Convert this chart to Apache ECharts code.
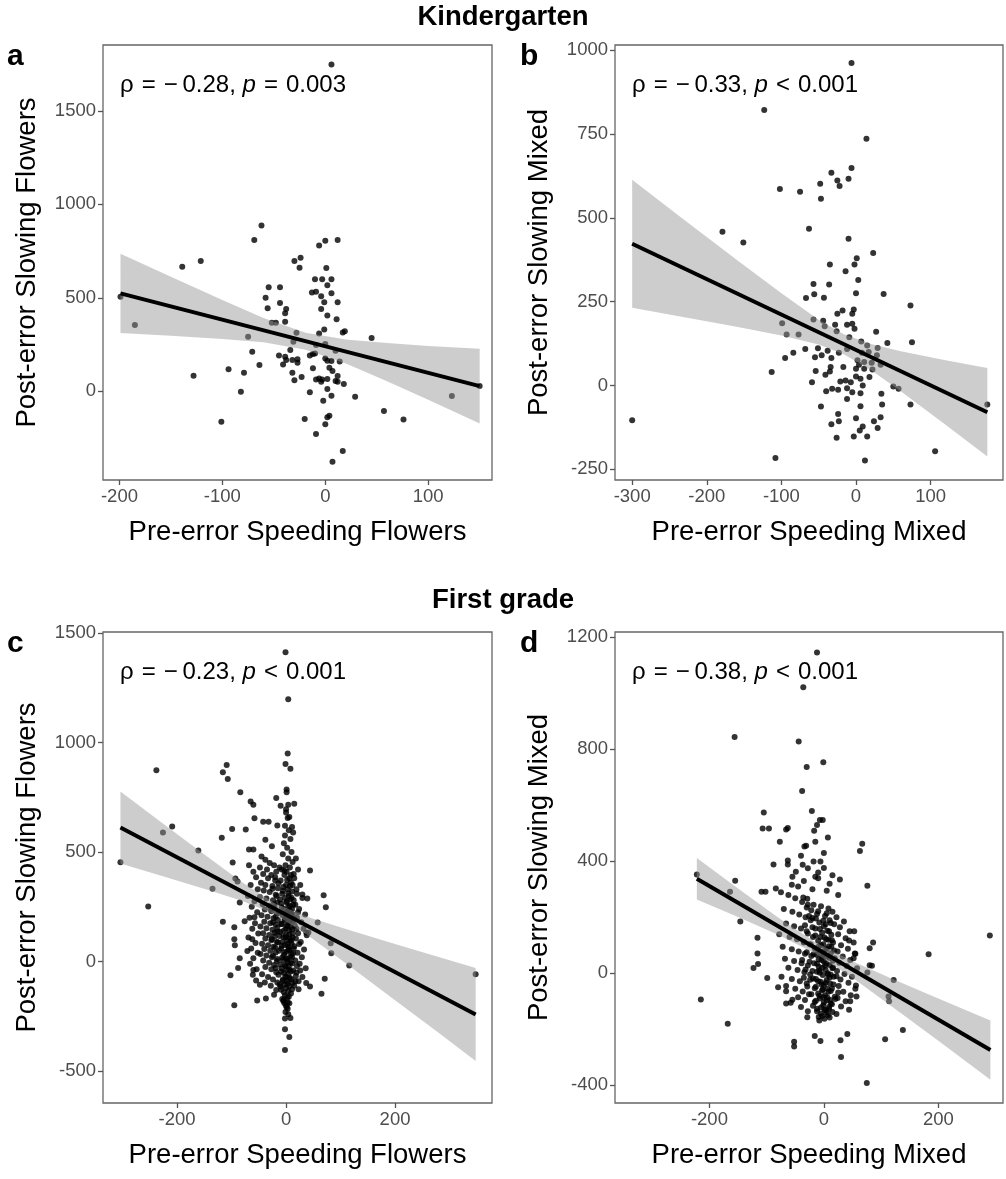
<!DOCTYPE html>
<html>
<head>
<meta charset="utf-8">
<script src="https://cdn.jsdelivr.net/npm/echarts@6/dist/echarts.min.js"></script>
<style>html,body{margin:0;padding:0;background:#fff}#c{width:1006px;height:1179px}</style>
</head>
<body>
<div id="c"></div>
<script>
// ---------- DATA ----------
const titles = ["Kindergarten", "First grade"];
const panelLetters = ["a", "b", "c", "d"];
const xTitles = ["Pre-error Speeding Flowers", "Pre-error Speeding Mixed", "Pre-error Speeding Flowers", "Pre-error Speeding Mixed"];
const yTitles = ["Post-error Slowing Flowers", "Post-error Slowing Mixed", "Post-error Slowing Flowers", "Post-error Slowing Mixed"];
const rhoText = ["−\u20090.28", "−\u20090.33", "−\u20090.23", "−\u20090.38"];
const pText = ["=\u20040.003", "<\u20040.001", "<\u20040.001", "<\u20040.001"];

const xTicksA = [-200, -100, 0, 100];
const yTicksA = [0, 500, 1000, 1500];
const xTicksB = [-300, -200, -100, 0, 100];
const yTicksB = [-250, 0, 250, 500, 750, 1000];
const xTicksC = [-200, 0, 200];
const yTicksC = [-500, 0, 500, 1000, 1500];
const xTicksD = [-200, 0, 200];
const yTicksD = [-400, 0, 400, 800, 1200];

const xRangeA = [-216, 162], yRangeA = [-474, 1852];
const xRangeB = [-323, 197], yRangeB = [-282, 1016];
const xRangeC = [-336, 378], yRangeC = [-645, 1504];
const xRangeD = [-365, 313], yRangeD = [-463, 1219];

const pointsA = [[6,1748],[-69,809],[-62,887],[-121,697],[-139,666],[-199,506],[-185,355],[-75,292],[-71,212],[-64,141],[-94,118],[-79,100],[-128,84],[-82,-2],[-101,-162],[-55,556],[-44,556],[-58,501],[-56,444],[-44,472],[-52,367],[-48,367],[-38,440],[-39,417],[-39,372],[-30,697],[-24,714],[-25,661],[-28,314],[-31,265],[-34,221],[-45,192],[-39,185],[-38,167],[-41,144],[-32,167],[-27,171],[-27,153],[-32,100],[-30,59],[-23,77],[-15,-5],[-20,-148],[-9,-228],[-6,780],[0,805],[12,809],[1,659],[-10,599],[-3,599],[6,599],[2,568],[-13,529],[-9,533],[-4,508],[-1,477],[6,524],[12,477],[-4,440],[2,406],[11,385],[-6,310],[-1,331],[17,315],[19,322],[-9,248],[0,253],[10,217],[-15,192],[-12,200],[-10,203],[0,176],[2,164],[6,162],[14,159],[-12,123],[4,126],[7,109],[12,82],[-9,64],[-6,69],[-3,64],[2,66],[10,55],[12,52],[18,39],[-4,52],[2,12],[6,-23],[-2,-50],[4,-130],[2,-139],[0,-176],[17,-319],[7,-376],[29,-29],[45,285],[57,-105],[76,-150],[123,-25],[150,29]];

const pointsB = [[-6,962],[-123,822],[14,736],[-179,459],[-151,427],[-300,-104],[-108,-216],[106,-196],[12,-224],[176,-57],[73,239],[75,129],[73,-57],[50,-3],[57,-10],[37,273],[42,127],[23,395],[27,160],[-102,586],[-75,578],[-48,602],[-47,557],[-33,635],[-25,612],[-22,595],[-10,617],[-6,649],[-63,468],[-10,438],[1,380],[-35,361],[-2,361],[-14,341],[3,315],[-57,303],[-36,301],[-56,272],[-67,261],[-43,262],[0,275],[-25,214],[-18,224],[-5,214],[-3,227],[-99,186],[-93,152],[-77,152],[-57,197],[-44,193],[-42,177],[-26,162],[-28,181],[-12,181],[-5,184],[-2,169],[-84,98],[-95,82],[-68,109],[-51,111],[-55,84],[-46,90],[-38,104],[-33,82],[-23,98],[-12,109],[7,131],[15,119],[17,100],[29,112],[28,90],[8,98],[2,75],[11,70],[21,68],[33,62],[22,48],[4,62],[0,50],[-17,55],[-34,55],[-54,43],[-41,32],[-35,42],[-113,40],[-59,10],[-21,12],[-14,15],[-7,10],[0,27],[6,20],[18,25],[9,0],[-12,-8],[-24,-13],[-40,-17],[-32,-10],[-5,-20],[6,-23],[-12,-40],[6,-62],[-47,-63],[34,-25],[35,-57],[-24,-85],[-23,-107],[-33,-116],[0,-98],[9,-122],[5,-134],[33,-95],[24,-107],[29,-127],[-26,-156],[-3,-152],[15,-152],[-9,144],[11,50]];

const pointsC = [[-1,1412],[4,1197],[3,950],[-1,902],[8,880],[-238,873],[-109,897],[-116,864],[-107,833],[-84,773],[1,785],[1,773],[-209,616],[-226,589],[-304,454],[-253,251],[-161,507],[-118,565],[-99,605],[-74,603],[-65,731],[-60,716],[-58,654],[-42,638],[-32,638],[-18,747],[-10,711],[0,695],[4,716],[15,720],[6,660],[11,614],[13,589],[-2,576],[-16,621],[-38,556],[-26,527],[-68,512],[-60,512],[-98,452],[-93,379],[-89,366],[-135,332],[-116,182],[-95,157],[-95,102],[-94,75],[-85,16],[-71,49],[-76,184],[-85,270],[-58,202],[-62,102],[-60,-38],[-88,-29],[-102,-62],[-95,-199],[-55,-86],[-48,-106],[-53,-177],[-37,-168],[-22,-151],[44,416],[30,306],[39,288],[69,303],[73,248],[58,179],[82,84],[83,38],[116,-18],[348,-58],[71,-78],[65,-146],[44,-113],[37,-97],[26,-40],[37,133],[41,133],[-2,-403],[6,-344],[-2,-308],[8,-257],[1,-208],[3,-186],[-4,-175],[11,-126],[23,-126],[17,-89],[-12,-104],[-18,-129],
[0,680],[3,655],[-2,620],[5,600],[8,560],[-4,540],[2,520],[10,500],[-6,490],[4,470],[12,455],[-1,440],[7,430],[-8,420],[1,410],[14,400],[-3,395],[6,380],[-10,370],[9,360],[0,350],[-5,340],[3,330],[11,320],[-7,310],[5,300],[-2,290],[8,285],[1,275],[-9,265],[13,260],[4,250],[-4,240],[7,232],[0,225],[10,218],[-6,210],[2,200],[15,195],[-3,188],[6,180],[-8,172],[3,165],[9,158],[-1,150],[5,142],[-11,135],[12,128],[0,120],[-5,112],[7,105],[2,98],[-7,90],[10,84],[-2,76],[4,68],[-9,60],[6,52],[1,45],[13,38],[-4,30],[8,22],[0,15],[-6,8],[3,0],[11,-8],[-2,-15],[5,-22],[-8,-30],[1,-38],[9,-45],[-4,-52],[4,-60],[-1,-68],[7,-75],[-6,-82],[2,-90],[12,-98],[-3,-105],[6,-112],[0,-120],[-9,-128],[4,-135],[9,-145],[-2,-155],[2,-165],[-5,-180],[6,-190],[0,-200],[3,-215],[-1,-230],
[-45,480],[-38,465],[-30,450],[-22,440],[-48,430],[-35,420],[-18,410],[-42,400],[-27,395],[-33,380],[-20,370],[-46,360],[-38,350],[-25,345],[-15,335],[-41,325],[-30,318],[-19,305],[-48,295],[-36,288],[-24,280],[-16,270],[-43,262],[-31,255],[-21,246],[-39,238],[-27,230],[-17,222],[-45,212],[-34,205],[-23,198],[-15,190],[-40,182],[-29,175],[-19,168],[-47,160],[-36,152],[-25,145],[-16,138],[-42,130],[-31,122],[-21,115],[-38,105],[-27,98],[-17,90],[-44,82],[-33,75],[-23,68],[-40,58],[-29,50],[-19,42],[-47,35],[-36,28],[-26,20],[-16,12],[-42,5],[-31,-5],[-22,-15],[-38,-25],[-27,-35],[-18,-48],[-44,-58],[-33,-70],[-24,-82],[-39,-95],[-28,-110],
[-68,440],[-60,410],[-55,385],[-65,350],[-52,330],[-70,300],[-58,275],[-63,250],[-53,225],[-67,200],[-57,175],[-62,150],[-51,128],[-69,110],[-56,85],[-64,60],[-52,40],[-60,15],[-66,-10],[-54,-35],[-61,-60],
[18,470],[22,420],[15,380],[26,350],[19,330],[30,290],[17,260],[24,240],[35,215],[20,200],[28,180],[16,165],[32,150],[22,130],[38,120],[18,105],[27,90],[15,70],[33,55],[21,40],[29,20],[17,5],[25,-10],[36,-30],[19,-50],[30,-70],[23,-90],[15,-110],
[-12,430],[-3,415],[9,395],[-20,385],[2,372],[-14,358],[7,345],[-25,333],[-6,322],[4,312],[-17,300],[10,292],[-11,283],[1,270],[-22,262],[7,255],[-8,248],[-28,238],[3,230],[-13,222],[12,215],[-19,205],[-2,196],[8,188],[-24,180],[-9,172],[1,163],[-16,155],[11,147],[-5,140],[-21,132],[6,124],[-12,117],[-1,110],[-26,102],[9,95],[-15,88],[3,80],[-8,73],[-20,65],[5,58],[-13,50],[-3,43],[10,35],[-24,27],[-7,19],[2,11],[-17,3],[8,-5],[-11,-13],[-1,-21],[-19,-29],[6,-37],[-9,-45],[-14,-60],[1,-72],[-6,-88],[10,-80],[-16,-95],[3,-100],[-10,-115],[-4,-140],[5,-160],[-7,-170],[-3,-190],[4,-240],[-2,-260],
[12,350],[20,310],[14,280],[11,240],[22,225],[13,185],[19,150],[12,110],[24,80],[14,60],[11,20],[20,-20],[13,-40],[18,-65]];

const pointsD = [[-12,1146],[-36,1022],[-156,844],[-44,828],[-1,754],[-30,737],[-38,651],[-21,580],[-105,574],[-107,517],[-96,517],[-66,514],[-63,519],[-17,509],[-12,530],[-7,548],[-2,548],[7,485],[-77,470],[67,463],[63,437],[-31,456],[-34,453],[-63,403],[-63,389],[-88,389],[-37,388],[-18,399],[-6,399],[0,376],[-49,363],[-15,345],[-10,340],[28,335],[76,313],[-222,353],[-155,331],[-164,291],[-109,291],[-102,291],[-84,303],[-56,316],[-36,271],[-29,266],[290,135],[183,68],[122,-24],[113,-83],[114,-100],[138,-202],[107,-235],[75,-392],[30,-299],[29,-239],[41,-217],[-6,-242],[-16,-224],[-52,-244],[-52,-261],[-215,-93],[-168,-180],[-146,185],[-116,127],[-116,71],[-115,33],[-123,19],[-99,-17],[-80,-50],[-66,-64],[-66,-108],[-55,-94],[-29,-157],[80,29],[84,27],[80,90],[86,110],[76,3],[53,150],[44,117],[54,71],[52,54],[57,-83],[46,-100],[56,-43],
[-18,245],[-5,240],[8,232],[15,220],[-12,212],[2,205],[-20,198],[10,190],[-8,182],[18,175],[0,168],[-15,160],[6,152],[-3,145],[13,138],[-19,130],[4,122],[-10,116],[16,110],[-1,104],[9,97],[-16,90],[2,84],[-7,78],[12,72],[-13,66],[6,60],[19,54],[-4,48],[0,42],[-17,36],[10,30],[-9,24],[15,18],[3,12],[-12,6],[7,0],[-2,-6],[17,-12],[-19,-18],[5,-24],[-6,-30],[11,-36],[0,-42],[-14,-48],[14,-54],[-3,-60],[8,-66],[-10,-72],[2,-78],[19,-84],[-7,-90],[5,-96],[-16,-102],[12,-108],[-1,-114],[9,-120],[-12,-126],[3,-132],[15,-138],[-5,-144],[7,-150],[-9,-156],[1,-162],[-2,60],[4,35],[-8,10],[10,-15],[-4,-40],[6,-55],[-11,85],[13,95],[-6,130],[3,175],[11,-95],[-14,-20],[16,45],[-1,-85],[8,120],[-3,20],[1,-130],[-9,50],[12,-5],[-5,100],
[-75,290],[-62,280],[-50,268],[-38,255],[-28,245],[-70,230],[-55,220],[-43,210],[-32,200],[-23,190],[-66,178],[-52,168],[-40,160],[-30,150],[-78,140],[-60,130],[-47,122],[-35,112],[-25,104],[-72,95],[-56,86],[-44,78],[-33,70],[-22,62],[-68,52],[-52,44],[-39,36],[-28,28],[-62,20],[-46,12],[-34,4],[-24,-4],[-74,-12],[-56,-20],[-42,-28],[-30,-36],[-66,-45],[-50,-55],[-37,-65],[-26,-75],[-45,-85],[-33,-95],[-58,-105],[-40,-120],[-28,-135],
[22,200],[35,185],[28,165],[45,150],[25,140],[38,125],[52,110],[30,100],[42,88],[24,78],[55,70],[33,60],[46,48],[27,38],[40,26],[58,18],[23,8],[36,-2],[49,-12],[29,-22],[43,-34],[26,-45],[55,-55],[34,-66],[47,-78],[24,-88],[38,-100],[30,-118],[44,-130],[22,-145],
[-45,310],[-20,300],[5,295],[-35,330],[10,320],[-55,345],[25,280],[-10,360],[-28,375],[15,350],[-40,420],[0,430],[-15,470],
[-30,235],[-22,225],[-10,222],[5,215],[-26,205],[-14,196],[-1,188],[12,180],[-33,172],[-20,165],[-7,158],[9,150],[-28,142],[-15,135],[1,128],[14,118],[-35,110],[-23,103],[-9,96],[5,88],[18,82],[-30,75],[-18,68],[-4,62],[10,55],[-38,48],[-25,41],[-12,34],[2,27],[16,21],[-32,14],[-20,8],[-7,2],[7,-4],[22,-10],[-35,-16],[-24,-23],[-10,-28],[3,-34],[17,-40],[-29,-47],[-16,-53],[-2,-58],[12,-63],[25,-68],[-22,-75],[-8,-80],[6,-86],[20,-92],[-14,-98],[0,-104],[14,-110],[-19,-116],[-5,-122],[9,-127],[-12,-135],[5,-141],[-3,-152],[10,-158],[-8,-168]];

// fitted regression lines (end points)
const fitA = [[-199, 524], [150, 28]];
const fitB = [[-300, 423], [176, -80]];
const fitC = [[-304, 612], [348, -241]];
const fitD = [[-222, 338], [291, -274]];

// confidence bands: x, lower, upper
const bandXA = [-199, -150, -100, -60, -19, 20, 60, 100, 150];
const bandLoA = [312, 297, 280, 262, 223, 149, 54, -45, -172];
const bandHiA = [736, 613, 488, 392, 313, 277, 258, 243, 228];
const bandXB = [-300, -230, -160, -100, -50, -17, 20, 60, 120, 176];
const bandLoB = [232, 204, 175, 149, 122, 94, 46, -17, -117, -212];
const bandHiB = [614, 494, 375, 275, 196, 154, 124, 102, 75, 52];
const bandXC = [-304, -220, -140, -80, -20, 40, 120, 200, 280, 348];
const bandLoC = [448, 385, 324, 277, 215, 120, -27, -176, -325, -453];
const bandHiC = [776, 619, 470, 361, 265, 204, 141, 81, 21, -29];
const bandXD = [-222, -150, -80, -14, 50, 120, 200, 291];
const bandLoD = [264, 201, 138, 70, -16, -120, -241, -380];
const bandHiD = [412, 303, 199, 110, 43, -20, -90, -168];

// ---------- LAYOUT ----------
const FONT = "'Liberation Sans', Arial, Helvetica, sans-serif";
const grids = [
  {left: 103, top: 45, width: 389, height: 435},
  {left: 615, top: 45, width: 388, height: 435},
  {left: 103, top: 632, width: 389, height: 471},
  {left: 615, top: 632, width: 388, height: 471}
];
const panels = [
  {pts: pointsA, xr: xRangeA, yr: yRangeA, xt: xTicksA, yt: yTicksA, fit: fitA, bx: bandXA, bl: bandLoA, bh: bandHiA},
  {pts: pointsB, xr: xRangeB, yr: yRangeB, xt: xTicksB, yt: yTicksB, fit: fitB, bx: bandXB, bl: bandLoB, bh: bandHiB},
  {pts: pointsC, xr: xRangeC, yr: yRangeC, xt: xTicksC, yt: yTicksC, fit: fitC, bx: bandXC, bl: bandLoC, bh: bandHiC},
  {pts: pointsD, xr: xRangeD, yr: yRangeD, xt: xTicksD, yt: yTicksD, fit: fitD, bx: bandXD, bl: bandLoD, bh: bandHiD}
];

const gridOpt = [], xAxes = [], yAxes = [], series = [];
panels.forEach((p, i) => {
  gridOpt.push(Object.assign({show: true, borderColor: '#666', borderWidth: 1.3, backgroundColor: 'transparent'}, grids[i]));
  const axisCommon = (ticks) => ({
    type: 'value', gridIndex: i,
    axisLine: {show: false, onZero: false},
    splitLine: {show: false},
    axisTick: {show: true, customValues: ticks, length: 5, lineStyle: {color: '#555', width: 1.3}},
    axisLabel: {customValues: ticks, color: '#4d4d4d', fontSize: 18.5, fontFamily: FONT, margin: 7, formatter: v => String(v)}
  });
  xAxes.push(Object.assign(axisCommon(p.xt), {min: p.xr[0], max: p.xr[1], position: 'bottom'}));
  yAxes.push(Object.assign(axisCommon(p.yt), {min: p.yr[0], max: p.yr[1], position: 'left'}));
  series.push({
    type: 'scatter', xAxisIndex: i, yAxisIndex: i, data: p.pts,
    symbolSize: 6, itemStyle: {color: '#000'}, z: 1, silent: true, animation: false
  });
  const bandData = p.bx.map((x, k) => [x, p.bl[k], p.bh[k]]);
  series.push({
    type: 'custom', xAxisIndex: i, yAxisIndex: i, data: bandData, z: 2, silent: true, animation: false,
    encode: {x: 0, y: [1, 2]},
    renderItem: (params, api) => {
      if (params.dataIndex !== 0) return null;
      const up = bandData.map(d => api.coord([d[0], d[2]]));
      const lo = bandData.map(d => api.coord([d[0], d[1]])).reverse();
      return {type: 'polygon', shape: {points: up.concat(lo)}, style: {fill: 'rgba(150,150,150,0.48)'}};
    }
  });
  series.push({
    type: 'line', xAxisIndex: i, yAxisIndex: i, data: p.fit, symbol: 'none',
    lineStyle: {color: '#000', width: 4}, z: 3, silent: true, animation: false
  });
});

// ---------- TEXT ----------
const graphics = [];
graphics.push({type: 'text', left: 'center', top: 3, style: {text: titles[0], font: `bold 27.5px ${FONT}`, fill: '#000'}});
graphics.push({type: 'text', left: 'center', top: 586, style: {text: titles[1], font: `bold 27.5px ${FONT}`, fill: '#000'}});
const letterPos = [[7, 42], [520, 42], [7, 629], [520, 629]];
panels.forEach((p, i) => {
  const g = grids[i];
  graphics.push({type: 'text', x: letterPos[i][0], y: letterPos[i][1], style: {text: panelLetters[i], font: `bold 30px ${FONT}`, fill: '#000'}});
  graphics.push({type: 'text', x: g.left + g.width / 2, y: g.top + g.height + 52,
    style: {text: xTitles[i], font: `27.5px ${FONT}`, fill: '#000', textAlign: 'center', textVerticalAlign: 'middle'}});
  graphics.push({type: 'text', x: i % 2 === 0 ? 27 : 539, y: g.top + g.height / 2, rotation: Math.PI / 2,
    style: {text: yTitles[i], font: `27.5px ${FONT}`, fill: '#000', textAlign: 'center', textVerticalAlign: 'middle'}});
  graphics.push({type: 'text', x: g.left + 17, y: g.top + 40,
    style: {
      text: `ρ\u2004=\u2004${rhoText[i]}, {i|p}\u2004${pText[i]}`,
      font: `24px ${FONT}`, fill: '#000', textVerticalAlign: 'middle',
      rich: {i: {fontStyle: 'italic', fontSize: 24, fontFamily: FONT}}
    }});
});

const chart = echarts.init(document.getElementById('c'), null, {renderer: 'canvas'});
chart.setOption({
  animation: false,
  backgroundColor: '#fff',
  grid: gridOpt, xAxis: xAxes, yAxis: yAxes, series: series, graphic: graphics
});
</script>
</body>
</html>
